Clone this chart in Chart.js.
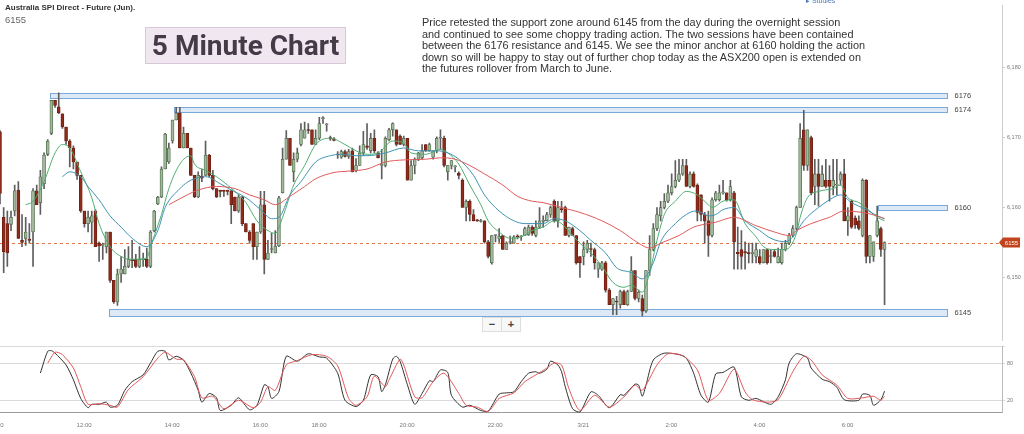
<!DOCTYPE html>
<html>
<head>
<meta charset="utf-8">
<script src="https://cdn.jsdelivr.net/npm/chart.js@4.4.0/dist/chart.umd.min.js"></script>
<style>
  body { margin: 0; width: 1024px; height: 434px; overflow: hidden; background: #fff; position: relative; font-family: "Liberation Sans", Arial, sans-serif; }
  canvas { position: absolute; left: 0; }
  #main { top: 0; }
  #stoch { top: 340px; }
  .title { position: absolute; left: 5px; top: 3px; font: bold 8px "Liberation Sans Narrow", "Liberation Sans", sans-serif; color: #333; }
  .last { position: absolute; left: 5px; top: 14px; font: 9.5px "Liberation Sans Narrow", "Liberation Sans", sans-serif; color: #666; }
  .badge { position: absolute; left: 145px; top: 27px; width: 199px; height: 35px; background: #f1e7f1; border: 1px solid #d8c8da; font: bold 28px Roboto, sans-serif; color: #463a48; text-align: center; line-height: 36px; }
  .note { position: absolute; left: 422px; top: 17px; width: 480px; white-space: pre-line; font: 10.9px "Liberation Sans", Arial, sans-serif; line-height: 11.6px; color: #333; }
  .studies { position: absolute; left: 806px; top: -3px; font: 7px "Liberation Sans", sans-serif; color: #4a78b5; }
  .zoom { position: absolute; left: 482px; top: 317px; width: 37px; height: 13px; border: 1px solid #ddd; background: #f8f8f8; display: flex; font: bold 11px "Liberation Sans", sans-serif; color: #444; }
  .zoom span { flex: 1; text-align: center; line-height: 13px; }
  .zoom span + span { border-left: 1px solid #ddd; }
</style>
</head>
<body>
<canvas id="main" width="1024" height="346"></canvas>
<canvas id="stoch" width="1024" height="94"></canvas>
<div class="title">Australia SPI Direct - Future (Jun).</div>
<div class="last">6155</div>
<div class="badge">5 Minute Chart</div>
<div class="studies">&#9656; Studies</div>
<div class="note">Price retested the support zone around 6145 from the day during the overnight session
and continued to see some choppy trading action. The two sessions have been contained
between the 6176 resistance and 6145. We see the minor anchor at 6160 holding the action
down so will be happy to stay out of further chop today as the ASX200 open is extended on
the futures rollover from March to June.</div>
<div class="zoom"><span>&minus;</span><span>+</span></div>
<script>
// 5 minute bars, 10:00 day session then 17:10 night session (3/21)
const opens = [
  6170.8, 6158.6, 6157.7, 6157.6, 6159.5, 6162.5, 6155.3, 6155.6, 6155.5, 6156.5,
  6162.4, 6160.7, 6163.4, 6167.6, 6170.6, 6175.3, 6174.4, 6173.4, 6171.5, 6169.5,
  6168.5, 6166.5, 6164.6, 6159.5, 6157.7, 6157.9, 6159.5, 6154.9, 6154.6, 6154.4,
  6156.5, 6149.6, 6146.5, 6150.5, 6150.5, 6151.6, 6152.5, 6152.6, 6151.6, 6152.5,
  6152.6, 6151.6, 6156.7, 6160.5, 6161.5, 6165.5, 6166.5, 6169.5, 6172.5, 6173.5,
  6168.5, 6170.6, 6168.5, 6164.6, 6161.5, 6164.5, 6164.6, 6167.5, 6164.6, 6162.7,
  6162.4, 6162.4, 6162.4, 6162.4, 6161.5, 6159.5, 6161.5, 6157.7, 6156.5, 6157.7,
  6154.4, 6156.5, 6160.4, 6152.6, 6154.0, 6153.5, 6154.5, 6162.1, 6166.9, 6169.9,
  6165.1, 6166.9, 6169.0, 6169.9, 6171.1, 6171.1, 6169.0, 6169.9, 6172.7, 6171.8,
  6170.0, 6169.8, 6167.6, 6167.2, 6168.0, 6167.3, 6168.1, 6165.3, 6166.0, 6167.8,
  6168.8, 6168.1, 6169.9, 6167.8, 6166.0, 6166.0, 6169.7, 6171.1, 6171.1, 6170.2,
  6169.0, 6169.9, 6163.9, 6166.0, 6166.9, 6167.1, 6169.0, 6168.1, 6167.2, 6168.1,
  6169.9, 6169.9, 6165.1, 6166.0, 6165.8, 6164.9, 6163.9, 6160.0, 6160.9, 6159.0,
  6158.2, 6158.0, 6158.1, 6155.1, 6152.1, 6156.0, 6155.5, 6156.0, 6154.0, 6155.0,
  6154.9, 6155.9, 6155.8, 6156.0, 6156.1, 6157.2, 6156.0, 6157.2, 6158.0, 6158.1,
  6159.0, 6160.9, 6158.1, 6159.8, 6160.0, 6156.0, 6157.0, 6156.0, 6153.0, 6153.0,
  6154.0, 6154.1, 6154.0, 6151.2, 6151.2, 6152.1, 6148.2, 6146.1, 6146.6, 6146.1,
  6148.0, 6146.1, 6148.0, 6151.0, 6147.0, 6147.0, 6145.2, 6151.0, 6154.0, 6157.0,
  6158.8, 6160.0, 6160.9, 6162.1, 6163.0, 6163.9, 6164.8, 6166.0, 6163.0, 6164.8,
  6163.2, 6161.8, 6159.0, 6158.1, 6156.0, 6161.1, 6161.1, 6162.1, 6162.1, 6161.1,
  6162.1, 6153.6, 6154.0, 6153.7, 6153.5, 6153.4, 6153.0, 6153.0, 6152.1, 6154.0,
  6153.0, 6153.7, 6152.1, 6152.1, 6154.0, 6154.9, 6156.0, 6157.0, 6160.0, 6171.1,
  6166.0, 6170.0, 6163.0, 6164.8, 6163.0, 6163.9, 6163.9, 6163.0, 6163.2, 6163.9,
  6164.8, 6158.1, 6160.9, 6158.5, 6158.1, 6156.0, 6163.9, 6153.0, 6153.0, 6156.0,
  6157.0, 6154.0
];
const highs = [
  6171.0, 6160.0, 6159.5, 6159.5, 6163.2, 6163.7, 6159.0, 6158.6, 6157.7, 6162.7,
  6163.2, 6165.3, 6167.8, 6169.7, 6175.3, 6175.3, 6176.4, 6173.4, 6171.5, 6169.7,
  6168.8, 6166.5, 6164.6, 6159.5, 6159.5, 6159.5, 6159.7, 6155.1, 6154.9, 6156.5,
  6156.5, 6149.6, 6151.2, 6153.0, 6154.0, 6154.4, 6155.3, 6153.3, 6154.4, 6153.5,
  6154.2, 6156.7, 6159.6, 6161.6, 6165.8, 6170.6, 6169.2, 6172.5, 6174.3, 6174.3,
  6171.5, 6170.6, 6168.5, 6164.6, 6165.1, 6165.5, 6169.5, 6167.6, 6165.3, 6162.7,
  6162.5, 6162.5, 6162.5, 6162.5, 6161.5, 6161.8, 6161.6, 6157.7, 6156.7, 6157.7,
  6156.5, 6162.3, 6162.3, 6155.3, 6156.3, 6156.7, 6161.6, 6168.5, 6171.0, 6169.9,
  6167.8, 6168.5, 6172.0, 6172.2, 6172.0, 6171.1, 6171.1, 6172.9, 6173.0, 6172.0,
  6170.2, 6170.0, 6168.0, 6168.2, 6168.2, 6168.3, 6168.5, 6167.0, 6168.8, 6170.9,
  6172.0, 6170.6, 6171.1, 6168.0, 6168.3, 6170.1, 6171.3, 6172.1, 6171.1, 6170.4,
  6170.2, 6169.9, 6166.7, 6167.1, 6167.9, 6169.0, 6169.0, 6169.2, 6168.1, 6170.1,
  6171.1, 6170.2, 6166.0, 6166.7, 6166.0, 6165.1, 6164.1, 6161.1, 6161.1, 6159.7,
  6158.3, 6158.3, 6158.1, 6155.3, 6156.0, 6156.1, 6157.0, 6156.0, 6155.1, 6155.9,
  6156.0, 6156.1, 6156.0, 6157.2, 6157.5, 6157.4, 6158.1, 6160.0, 6158.8, 6159.3,
  6160.2, 6161.1, 6160.9, 6160.9, 6160.2, 6157.2, 6157.2, 6156.0, 6153.0, 6155.1,
  6155.3, 6154.9, 6154.2, 6152.1, 6152.3, 6152.3, 6148.4, 6147.0, 6147.3, 6148.2,
  6148.2, 6148.2, 6153.0, 6151.0, 6148.2, 6147.5, 6151.0, 6156.0, 6157.7, 6160.0,
  6160.9, 6162.0, 6163.2, 6164.8, 6166.7, 6166.9, 6166.9, 6166.9, 6165.1, 6165.1,
  6163.4, 6161.8, 6159.3, 6159.5, 6161.4, 6162.3, 6163.2, 6163.9, 6162.1, 6163.9,
  6162.3, 6157.2, 6156.7, 6155.1, 6154.9, 6154.9, 6154.9, 6154.0, 6154.0, 6154.0,
  6154.0, 6154.0, 6154.2, 6154.9, 6155.3, 6156.3, 6157.4, 6160.2, 6172.0, 6173.9,
  6171.1, 6170.2, 6166.9, 6166.9, 6166.0, 6166.9, 6166.0, 6166.9, 6166.9, 6165.1,
  6166.9, 6160.0, 6161.1, 6158.8, 6158.8, 6164.1, 6164.0, 6156.0, 6155.1, 6160.2,
  6157.2, 6155.1
];
const lows = [
  6160.5, 6150.7, 6151.6, 6156.7, 6158.8, 6155.6, 6154.4, 6154.6, 6154.9, 6151.6,
  6160.4, 6159.0, 6162.7, 6167.4, 6170.4, 6174.3, 6173.4, 6171.3, 6169.0, 6165.8,
  6165.5, 6164.0, 6159.3, 6157.2, 6156.5, 6154.9, 6154.4, 6152.3, 6152.6, 6153.5,
  6149.3, 6146.3, 6146.0, 6149.3, 6150.5, 6151.4, 6151.4, 6151.4, 6151.4, 6151.6,
  6151.4, 6151.4, 6156.5, 6160.4, 6161.4, 6165.5, 6166.3, 6169.2, 6172.5, 6168.5,
  6168.5, 6168.5, 6164.6, 6161.4, 6161.4, 6163.7, 6164.6, 6164.4, 6162.5, 6161.4,
  6161.5, 6161.6, 6161.8, 6157.7, 6159.5, 6159.3, 6157.4, 6156.5, 6154.9, 6152.6,
  6152.6, 6156.3, 6150.5, 6152.6, 6153.5, 6153.5, 6154.4, 6162.1, 6166.9, 6166.0,
  6163.7, 6166.5, 6168.8, 6169.9, 6170.6, 6169.0, 6169.0, 6169.7, 6172.0, 6170.9,
  6169.6, 6169.5, 6167.0, 6167.0, 6167.2, 6167.0, 6165.1, 6165.1, 6166.0, 6167.4,
  6168.3, 6167.8, 6167.8, 6167.1, 6164.1, 6165.8, 6169.5, 6170.2, 6168.8, 6169.0,
  6168.8, 6163.9, 6163.9, 6164.8, 6166.7, 6166.9, 6168.0, 6168.0, 6166.9, 6167.8,
  6168.3, 6165.8, 6163.9, 6165.5, 6165.1, 6164.1, 6160.0, 6158.1, 6158.1, 6158.1,
  6158.0, 6157.9, 6154.9, 6152.8, 6151.9, 6155.1, 6155.0, 6154.0, 6154.0, 6154.8,
  6154.9, 6155.5, 6155.3, 6156.0, 6156.0, 6156.0, 6155.8, 6157.0, 6157.2, 6158.1,
  6158.6, 6157.9, 6157.2, 6159.3, 6156.0, 6155.8, 6156.0, 6151.9, 6150.0, 6151.8,
  6153.5, 6153.0, 6151.2, 6150.0, 6151.0, 6147.9, 6146.1, 6144.7, 6144.7, 6145.6,
  6146.1, 6146.0, 6148.0, 6146.8, 6146.5, 6144.5, 6145.0, 6150.3, 6153.8, 6156.7,
  6158.1, 6159.8, 6160.7, 6161.8, 6162.8, 6163.7, 6164.6, 6163.0, 6162.8, 6162.9,
  6158.1, 6158.1, 6154.9, 6153.0, 6155.8, 6160.9, 6160.9, 6161.9, 6160.9, 6160.9,
  6151.2, 6151.2, 6151.2, 6151.2, 6152.1, 6152.1, 6152.1, 6151.9, 6152.1, 6151.9,
  6152.1, 6152.9, 6152.1, 6151.9, 6153.8, 6154.7, 6155.8, 6156.8, 6160.0, 6165.3,
  6165.3, 6161.8, 6160.4, 6160.2, 6163.0, 6162.8, 6160.9, 6161.8, 6161.8, 6163.2,
  6158.1, 6156.0, 6157.0, 6157.0, 6156.8, 6155.8, 6152.1, 6152.1, 6152.3, 6155.8,
  6153.0, 6146.1
];
const closes = [
  6162.0, 6153.7, 6153.5, 6158.6, 6162.4, 6155.6, 6155.0, 6156.5, 6155.3, 6162.4,
  6160.4, 6164.4, 6167.5, 6169.5, 6175.3, 6174.6, 6173.5, 6171.5, 6169.5, 6168.5,
  6166.5, 6164.6, 6159.5, 6157.7, 6158.6, 6158.8, 6154.4, 6154.5, 6154.7, 6156.5,
  6149.6, 6146.5, 6150.5, 6151.2, 6151.6, 6152.6, 6152.4, 6151.6, 6152.6, 6152.6,
  6151.6, 6156.5, 6159.5, 6161.5, 6165.5, 6170.5, 6168.5, 6172.5, 6173.5, 6168.5,
  6170.6, 6168.5, 6164.6, 6161.5, 6164.6, 6164.2, 6167.5, 6164.6, 6162.7, 6161.5,
  6162.3, 6162.3, 6162.3, 6160.4, 6159.5, 6161.5, 6157.7, 6156.5, 6155.3, 6154.4,
  6156.5, 6160.4, 6152.6, 6153.5, 6154.1, 6154.5, 6161.4, 6166.9, 6169.9, 6166.0,
  6166.9, 6167.8, 6171.1, 6171.1, 6171.0, 6169.0, 6169.9, 6172.0, 6172.8, 6171.8,
  6169.8, 6169.6, 6167.5, 6168.0, 6167.3, 6168.0, 6165.1, 6166.0, 6167.8, 6169.0,
  6168.6, 6169.9, 6168.1, 6167.1, 6166.2, 6169.9, 6171.1, 6172.0, 6169.0, 6169.0,
  6169.9, 6163.9, 6166.0, 6166.9, 6167.8, 6168.1, 6168.1, 6169.0, 6168.1, 6169.9,
  6170.0, 6166.0, 6166.0, 6166.7, 6165.9, 6164.6, 6160.0, 6160.9, 6159.0, 6158.1,
  6158.1, 6158.1, 6155.1, 6153.0, 6156.0, 6156.1, 6155.9, 6154.0, 6154.9, 6155.1,
  6155.8, 6155.8, 6155.9, 6157.0, 6157.2, 6156.3, 6157.2, 6158.1, 6158.2, 6159.0,
  6160.0, 6158.1, 6160.0, 6159.7, 6156.0, 6157.2, 6156.0, 6152.1, 6152.1, 6154.0,
  6154.9, 6154.0, 6152.1, 6152.1, 6152.1, 6148.2, 6146.1, 6147.0, 6146.5, 6148.0,
  6146.1, 6148.0, 6151.0, 6147.0, 6147.9, 6145.2, 6151.0, 6154.0, 6157.0, 6159.0,
  6160.0, 6160.9, 6162.1, 6163.0, 6163.9, 6164.8, 6166.0, 6163.0, 6164.8, 6163.0,
  6159.3, 6159.0, 6158.1, 6156.0, 6161.1, 6162.1, 6162.1, 6162.2, 6161.1, 6163.0,
  6155.1, 6153.4, 6153.0, 6153.5, 6153.4, 6153.5, 6154.0, 6152.1, 6154.0, 6152.1,
  6153.1, 6153.0, 6153.0, 6154.0, 6154.9, 6156.0, 6157.0, 6160.0, 6169.9, 6166.0,
  6171.1, 6162.1, 6164.8, 6163.0, 6164.8, 6163.0, 6163.0, 6163.9, 6163.3, 6164.8,
  6158.1, 6158.8, 6157.2, 6157.5, 6157.0, 6163.9, 6153.0, 6156.0, 6155.1, 6158.1,
  6154.0, 6155.0
];

// moving averages: [bar index, price]
const maFast = [[7,6160.4],[9,6160.9],[12,6163.7],[15,6167.8],[17,6169],[19,6168.5],[22,6165.1],[25,6161.4],[27,6157.7],[30,6154.4],[33,6153],[36,6152.6],[40,6152.8],[41,6154.4],[44,6159],[46,6162.7],[49,6166.2],[52,6167.4],[53,6166.2],[56,6165.3],[59,6164.4],[62,6163.2],[64,6162.3],[67,6160.7],[70,6158.1],[73,6156.7],[75,6156.3],[77,6158.6],[80,6163.2],[83,6166],[86,6169],[90,6169.9],[94,6169],[97,6168.1],[100,6167.6],[103,6167.8],[107,6169.5],[110,6169.2],[112,6167.8],[116,6167.6],[120,6168.3],[122,6167.8],[125,6166.2],[128,6163.2],[131,6160.4],[133,6158.1],[136,6156.5],[139,6155.6],[142,6155.8],[145,6156.7],[148,6157.2],[151,6158.1],[153,6157.7],[156,6156],[159,6154.4],[161,6153.5],[164,6151.6],[167,6149.3],[170,6148.6],[172,6148.9],[175,6147.9],[177,6150.7],[179,6155.3],[181,6159],[184,6160.9],[187,6162.3],[190,6161.8],[193,6160.4],[194,6160],[197,6160.9],[200,6161.1],[203,6157.7],[206,6155.8],[208,6154.4],[211,6154],[214,6154],[217,6156.3],[218,6158.6],[220,6161.4],[223,6162.3],[227,6162.7],[229,6163.2],[231,6161.4],[234,6160.7],[237,6159.5],[239,6158.6],[241,6158.1]];
const maMid = [[17,6164.4],[19,6165.1],[22,6164.4],[24,6163],[27,6161.1],[30,6158.8],[33,6157.2],[36,6155.6],[40,6154.4],[43,6156.7],[45,6160],[49,6162.7],[50,6163.2],[52,6163.9],[56,6164.4],[60,6163.4],[63,6162.5],[67,6161.4],[71,6159.7],[74,6158.4],[76,6158.6],[79,6161.8],[82,6163.7],[86,6166.5],[90,6167.4],[93,6167.6],[97,6167.4],[100,6167.4],[105,6167.8],[110,6168.5],[114,6168.1],[119,6168.1],[122,6167.8],[125,6166.9],[129,6164.6],[132,6161.8],[136,6159.5],[140,6158.1],[143,6157.7],[148,6157.7],[151,6158.4],[154,6158.1],[158,6156.7],[161,6155.3],[165,6153.5],[168,6151.4],[172,6150.7],[175,6149.8],[178,6152.1],[180,6155.1],[184,6157.7],[188,6159.3],[190,6159.5],[193,6158.8],[195,6159],[197,6159.7],[200,6160],[203,6158.1],[207,6156.7],[210,6155.6],[214,6155.1],[216,6155.8],[219,6158.1],[223,6160],[226,6161.1],[229,6161.8],[232,6160.7],[236,6159.7],[239,6158.8],[241,6158.4]];
const maSlow = [[46,6160.4],[51,6161.8],[54,6162.5],[59,6163],[64,6162.7],[68,6161.8],[72,6161.1],[75,6160.4],[79,6161.6],[83,6163],[86,6164.1],[91,6165],[95,6165.2],[100,6165.5],[105,6166.5],[110,6166.8],[116,6166.9],[120,6167.1],[124,6166.9],[128,6166],[132,6164.8],[137,6163.2],[141,6161.6],[145,6160.9],[148,6160.7],[153,6160],[158,6159.3],[164,6158.1],[169,6156.7],[174,6154.9],[177,6154.2],[180,6154.9],[185,6156],[189,6157.2],[193,6157.7],[195,6157.9],[200,6158.6],[206,6157.4],[211,6156.5],[215,6156],[217,6156.7],[221,6157.7],[226,6158.6],[230,6159.5],[235,6159.3],[239,6158.8],[241,6158.4]];

// stochastic %K and %D: [bar index, value]
const stochK = [[11,64],[13,99],[14,100],[15,96],[18,77],[20,53],[22,23],[24,8],[25,13.5],[27,13.5],[29,17],[30,9],[32,12],[34,36],[36,50],[39,61],[41,80],[43,99],[45,99],[46,85],[48,91],[50,85],[52,64],[54,36],[55,17],[57,31],[59,24],[60,3.6],[63,12],[65,24],[68,4.7],[70,12],[72,45],[73,42],[74,23],[76,34],[78,91],[81,83],[84,95],[87,90],[89,88],[92,63.6],[94,20],[97,10],[99,20],[101,61],[103,58],[104,34],[105,45],[107,86.5],[108,91],[109,83],[111,45],[113,13.5],[115,31],[117,51.6],[118,50],[120,69],[122,65],[123,28],[126,9],[128,12],[131,3.6],[133,2.5],[136,30],[138,32],[140,33.6],[142,50],[144,63.6],[146,66],[147,63.6],[149,70],[150,83],[152,77],[153,66],[154,42],[156,6.4],[158,1],[161,33.6],[163,28],[166,8],[169,29],[170,28],[173,46],[174,44.5],[175,26.5],[176,44.5],[178,85],[181,96],[185,93.6],[187,88],[189,63.6],[191,28],[193,17],[195,62.5],[197,65],[200,73.5],[202,25.5],[204,20],[206,23],[210,13.5],[212,25.5],[214,53],[215,80],[217,95],[220,88],[221,72],[224,54],[226,50],[228,41],[230,21],[234,20],[235,30],[237,28],[238,12],[240,21],[241,34.7]];
const stochD = [[13,80],[15,97.5],[17,93.6],[20,72],[22,42],[24,13.5],[27,14.5],[30,12],[32,9],[35,37.5],[39,58],[43,88],[45,97.5],[48,86.5],[50,85],[53,58],[55,24],[58,26.5],[61,6.4],[65,20],[69,8],[71,17],[73,42],[75,36],[78,77],[81,84],[85,93.6],[89,91],[92,75.6],[95,23],[97,12],[100,25.5],[102,59],[105,42],[106,53],[109,86.5],[110,77],[113,25.5],[115,24],[118,50],[121,63.6],[125,31],[127,12],[130,9],[133,2],[136,23],[140,32],[143,50],[146,61],[149,72],[151,80],[153,77],[155,39],[158,3.6],[162,28],[166,9],[170,25.5],[173,44.5],[175,36],[179,77],[182,95],[186,92],[190,69],[193,20],[196,31],[200,70],[203,33.6],[205,21],[209,17],[212,21],[216,66],[219,91],[221,85],[224,61],[228,44.5],[231,23],[235,24],[238,26.5],[240,20],[241,26.5]];

// support / resistance zones: level and the bar they start from
const zoneLevels = [6176, 6174, 6160, 6145];
const zoneFrom = [13.6, 47.4, 239.3, 29.6];
const zoneTo = 258;
const lastPrice = 6155;

// time slots: day session from 10:00, night session from 17:10, room on the right
const SLOTS = 274;
const labels = [];
for (let i = 0; i < SLOTS; i++) {
  let m = i < 78 ? 600 + 5 * i : 1030 + 5 * (i - 78);
  m = m % 1440;
  const h = Math.floor(m / 60), mm = m % 60;
  labels.push(m === 0 ? '3/21' : h + ':' + String(mm).padStart(2, '0'));
}

function toSeries(points) {
  const arr = new Array(SLOTS).fill(null);
  points.forEach(([i, v]) => { arr[i] = v; });
  return arr;
}

const up = opens.map((o, i) => closes[i] >= o);

const zonesPlugin = {
  id: 'zones',
  beforeDatasetsDraw(chart) {
    const { ctx, chartArea, scales: { x, y } } = chart;
    ctx.save();
    const py = Math.round(y.getPixelForValue(lastPrice)) + 0.5;
    ctx.strokeStyle = '#e07448';
    ctx.lineWidth = 1;
    ctx.setLineDash([3, 3]);
    ctx.beginPath();
    ctx.moveTo(chartArea.left, py);
    ctx.lineTo(chartArea.right, py);
    ctx.stroke();
    ctx.setLineDash([]);
    zoneLevels.forEach((lv, k) => {
      const half = lv === 6145 ? 0.5 : 0.32;
      const x0 = Math.round(x.getPixelForValue(zoneFrom[k])) + 0.5;
      const x1 = Math.round(x.getPixelForValue(zoneTo)) + 0.5;
      const y0 = Math.round(y.getPixelForValue(lv + half)) + 0.5;
      const y1 = Math.round(y.getPixelForValue(lv - half)) + 0.5;
      ctx.fillStyle = '#dde9f6';
      ctx.fillRect(x0, y0, x1 - x0, y1 - y0);
      ctx.strokeStyle = '#7aa9d6';
      ctx.strokeRect(x0, y0, x1 - x0, y1 - y0);
      ctx.fillStyle = '#444';
      ctx.font = '7.5px "Liberation Sans", Arial, sans-serif';
      ctx.textBaseline = 'middle';
      ctx.fillText(String(lv), x1 + 7, y.getPixelForValue(lv));
    });
    ctx.restore();
  },
  afterDraw(chart) {
    const { ctx, chartArea, scales: { y } } = chart;
    const py = y.getPixelForValue(lastPrice);
    const l = chartArea.right - 3;
    ctx.save();
    ctx.fillStyle = '#c2441c';
    ctx.beginPath();
    ctx.moveTo(l, py);
    ctx.lineTo(l + 4, py - 5);
    ctx.lineTo(l + 21, py - 5);
    ctx.lineTo(l + 21, py + 5);
    ctx.lineTo(l + 4, py + 5);
    ctx.closePath();
    ctx.fill();
    ctx.fillStyle = '#fff';
    ctx.font = '6px "Liberation Sans", Arial, sans-serif';
    ctx.textAlign = 'center';
    ctx.textBaseline = 'middle';
    ctx.fillText(String(lastPrice), l + 12.5, py + 0.5);
    ctx.restore();
  }
};

const maStyle = { type: 'line', pointRadius: 0, borderWidth: 1, spanGaps: true, tension: 0.4, cubicInterpolationMode: 'monotone', order: 1 };

new Chart(document.getElementById('main').getContext('2d'), {
  type: 'bar',
  data: {
    labels: labels,
    datasets: [
      { label: 'wick', data: highs.map((h, i) => [lows[i], h]), backgroundColor: '#5e5e5e', barThickness: 1, grouped: false, minBarLength: 1, order: 3 },
      { label: 'body', data: opens.map((o, i) => [o, closes[i]]),
        backgroundColor: up.map(u => u ? '#a2b89d' : '#8e2b1a'),
        borderColor: up.map(u => u ? '#4f6b4b' : '#6b1f12'),
        borderWidth: 0.8, borderSkipped: false, barThickness: 3, grouped: false, minBarLength: 1, order: 2 },
      Object.assign({ label: 'MA slow', data: toSeries(maSlow), borderColor: '#e05a5a' }, maStyle),
      Object.assign({ label: 'MA mid', data: toSeries(maMid), borderColor: '#3f93b3' }, maStyle),
      Object.assign({ label: 'MA fast', data: toSeries(maFast), borderColor: '#4fae72' }, maStyle)
    ]
  },
  options: {
    responsive: false,
    animation: false,
    layout: { padding: 0 },
    plugins: { legend: { display: false }, tooltip: { enabled: false } },
    scales: {
      x: { display: false, offset: false, grid: { offset: false } },
      y: {
        position: 'right', min: 6140.97, max: 6188.89,
        afterFit: s => { s.width = 22; },
        ticks: { stepSize: 10, includeBounds: false, color: '#777', padding: 2, font: { size: 5.5, family: '"Liberation Sans", Arial' } },
        grid: { drawOnChartArea: false, tickLength: 3, color: '#ccc' },
        border: { display: true, color: '#ccc' }
      }
    }
  },
  plugins: [zonesPlugin]
});

const lineStyle = { pointRadius: 0, borderWidth: 1, spanGaps: true, tension: 0.25 };

new Chart(document.getElementById('stoch').getContext('2d'), {
  type: 'line',
  data: {
    labels: labels,
    datasets: [
      Object.assign({ label: '%D', data: toSeries(stochD), borderColor: '#e0585a' }, lineStyle),
      Object.assign({ label: '%K', data: toSeries(stochK), borderColor: '#333' }, lineStyle)
    ]
  },
  options: {
    responsive: false,
    animation: false,
    layout: { padding: { top: 6.7 } },
    plugins: { legend: { display: false }, tooltip: { enabled: false } },
    scales: {
      x: {
        offset: false,
        afterFit: s => { s.height = 21.3; s.paddingLeft = 0; s.paddingRight = 0; },
        grid: { display: false, drawTicks: false },
        border: { display: true, color: '#999' },
        ticks: {
          autoSkip: false, maxRotation: 0, padding: 9, labelOffset: -4, color: '#777',
          font: { size: 6, family: '"Liberation Sans", Arial' },
          callback: (v, i) => {
            const l = labels[i];
            if (i > opens.length - 1) return null;
            if (l === '3/21') return l;
            return l.endsWith(':00') && parseInt(l, 10) % 2 === 0 ? l : null;
          }
        }
      },
      y: {
        position: 'right', min: 0, max: 106.4,
        afterFit: s => { s.width = 22; },
        afterBuildTicks: s => { s.ticks = [20, 80, 106.4].map(v => ({ value: v })); },
        ticks: { color: '#777', padding: 2, font: { size: 5.5, family: '"Liberation Sans", Arial' },
                 callback: v => (v === 20 || v === 80) ? String(v) : '' },
        grid: { color: '#dadada', tickLength: 3 },
        border: { display: true, color: '#bbb' }
      }
    }
  }
});
</script>
</body>
</html>
